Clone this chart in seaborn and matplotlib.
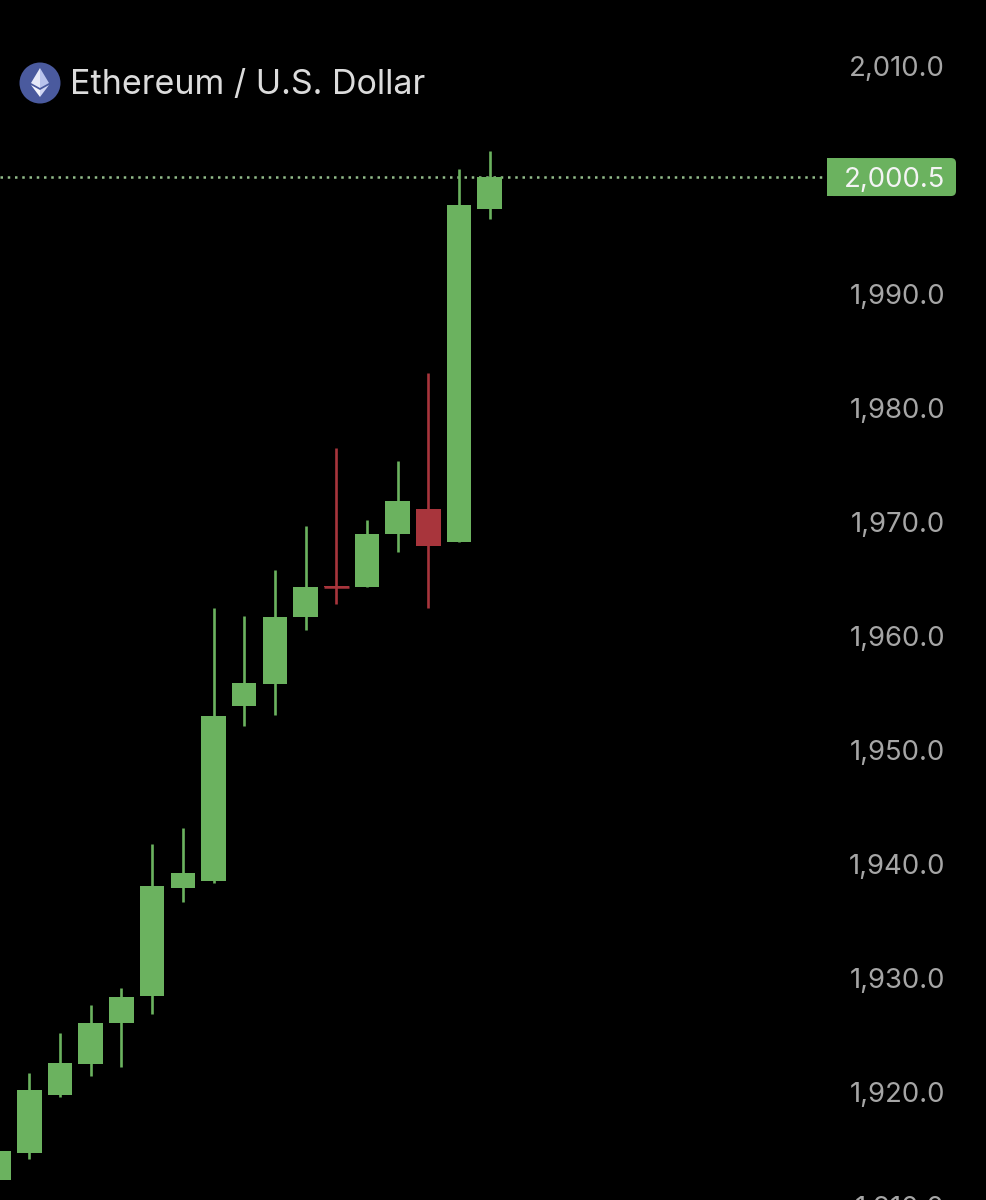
import numpy as np
import pandas as pd
import matplotlib
matplotlib.use("Agg")
import matplotlib.pyplot as plt
import seaborn as sns
from matplotlib.patches import Circle, FancyBboxPatch, Polygon, Rectangle
from matplotlib.transforms import IdentityTransform

# candles, oldest to newest
opens = [1912.52, 1914.89, 1919.97, 1922.69, 1926.29, 1928.66, 1938.13, 1938.75, 1954.10,
         1956.03, 1961.90, 1964.60, 1964.54, 1969.18, 1971.38, 1968.48, 1997.69]
closes = [1915.06, 1920.41, 1922.78, 1926.29, 1928.57, 1938.31, 1939.45, 1953.22, 1956.11,
          1961.90, 1964.54, 1964.50, 1969.18, 1972.08, 1968.13, 1998.04, 2000.50]
highs = [1915.06, 1921.90, 1925.41, 1927.87, 1929.36, 1941.99, 1943.39, 1962.69, 1961.99,
         1966.03, 1969.89, 1976.73, 1970.41, 1975.59, 1983.31, 2001.20, 2002.78]
lows = [1912.52, 1914.36, 1919.80, 1921.64, 1922.43, 1927.08, 1936.90, 1938.60, 1952.34,
        1953.31, 1960.76, 1963.04, 1964.54, 1967.61, 1962.69, 1968.48, 1996.82]
y_ticks = [2010, 1990, 1980, 1970, 1960, 1950, 1940, 1930, 1920, 1910]
last_price = 2000.5

GREEN = "#6bb25f"
RED = "#a8353c"
W, H = 986, 1200

sns.set_theme(style="dark", rc={"axes.facecolor": "black", "figure.facecolor": "black"})
plt.rcParams["font.family"] = ["Inter", "DejaVu Sans"]

df = pd.DataFrame({"open": opens, "close": closes, "high": highs, "low": lows})
df["pos"] = np.arange(len(df))
df["dir"] = np.where(df["close"] >= df["open"], "up", "down")

fig = plt.figure(figsize=(W / 100, H / 100), dpi=100)
ax = fig.add_axes([0, 0, 1, 1])

# wicks
wicks = df.melt(id_vars=["pos", "dir"], value_vars=["low", "high"], value_name="price")
sns.lineplot(data=wicks, x="pos", y="price", hue="dir", units="pos", estimator=None,
             palette={"up": GREEN, "down": RED}, linewidth=1.9, legend=False, ax=ax,
             solid_capstyle="butt")

# bodies
body_bottom = df[["open", "close"]].min(axis=1)
body_height = (df["close"] - df["open"]).abs()
colors = df["dir"].map({"up": GREEN, "down": RED})
ax.bar(df["pos"], body_height, bottom=body_bottom, width=0.8, color=colors, linewidth=0)
# doji gets a flat line
for _, r in df[body_height < 0.5].iterrows():
    ax.hlines(r["close"], r["pos"] - 0.4, r["pos"] + 0.4, color=RED, linewidth=1.8)

ax.set_xlim(0.0424, 32.17)
ax.set_ylim(1910.76, 2016.03)
ax.axis("off")

# last price line
ax.axhline(last_price, xmax=826 / W, color="#93bd8b", linewidth=1.8, linestyle=(0, (1, 1.9)), zorder=0.5)

# price labels, sit a bit above their level like in the app
for v in y_ticks:
    ax.annotate(f"{v:,.1f}", xy=(945 / W, v), xycoords=ax.get_yaxis_transform(),
                xytext=(0, -0.4), textcoords="offset pixels", ha="right", va="center",
                color="#a6a6a6", fontsize=19.8, annotation_clip=False)


def px(x, y):
    return (x, H - y)


# badge
fig.canvas.draw()
yc = H - ax.transData.transform((0, last_price))[1]
tr = IdentityTransform()
ax.add_patch(FancyBboxPatch(px(833, yc + 14), 118, 28, boxstyle="round,pad=5,rounding_size=5",
                            transform=tr, facecolor=GREEN, edgecolor="none", clip_on=False))
ax.add_patch(Rectangle(px(827, yc + 19), 30, 38, transform=tr, facecolor=GREEN,
                       edgecolor="none", clip_on=False))
ax.annotate(f"{last_price:,.1f}", xy=(945 / W, last_price), xycoords=ax.get_yaxis_transform(),
            xytext=(0, 0), textcoords="offset pixels", ha="right", va="center_baseline",
            color="#f4f4f4", fontsize=19.8, annotation_clip=False, zorder=5)

# title with ether logo
ax.add_patch(Circle(px(40, 83), 20.5, transform=tr, facecolor="#4a5a9e", edgecolor="none", clip_on=False))
ax.add_patch(Polygon([px(40, 68), px(31, 83), px(40, 88)], transform=tr, facecolor="#e6e9f8", edgecolor="none"))
ax.add_patch(Polygon([px(40, 68), px(49, 83), px(40, 88)], transform=tr, facecolor="#b9c3ec", edgecolor="none"))
ax.add_patch(Polygon([px(31, 85), px(40, 97), px(40, 90)], transform=tr, facecolor="#f4f5fc", edgecolor="none"))
ax.add_patch(Polygon([px(49, 85), px(40, 97), px(40, 90)], transform=tr, facecolor="#d0d6f3", edgecolor="none"))
ax.text(70, H - 82, "Ethereum / U.S. Dollar", transform=tr, ha="left", va="center_baseline",
        color="#dcdcdc", fontsize=24.5)

fig.savefig("out.png", dpi=100, facecolor="black")
